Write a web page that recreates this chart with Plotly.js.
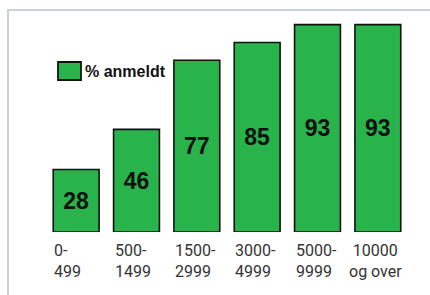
<!DOCTYPE html>
<html>
<head>
<meta charset="utf-8">
<script src="https://cdn.plot.ly/plotly-3.0.1.min.js"></script>
<style>
html,body{margin:0;padding:0;background:#fff;}
#frame{position:absolute;left:7px;top:9px;width:423px;height:286px;border-left:2px solid #cbd0d9;border-top:2px solid #cbd0d9;z-index:5;pointer-events:none;}
#chart{position:absolute;left:0;top:0;width:430px;height:295px;z-index:1;}
</style>
</head>
<body>
<div id="frame"></div>
<div id="chart"></div>
<script>
const categories = ["0-499", "500-1499", "1500-2999", "3000-4999", "5000-9999", "10000 og over"];
const tickLabels = ["0-<br>499", "500-<br>1499", "1500-<br>2999", "3000-<br>4999", "5000-<br>9999", "10000<br>og over"];
const values = [28, 46, 77, 85, 93, 93];
const seriesName = "% anmeldt";

const green = "#29b34b";

const trace = {
  type: "bar",
  x: categories,
  y: values,
  text: values.map(String),
  textposition: "inside",
  insidetextanchor: "middle",
  textangle: 0,
  textfont: {family: "Liberation Sans, Arial, sans-serif", size: 23, color: "#111", weight: "bold"},
  marker: {color: green, line: {color: "#111", width: 1.6}},
  name: seriesName,
  hoverinfo: "none"
};

const annotations = categories.map((c, i) => {
  const last = i === categories.length - 1;
  return {
    x: c, xref: "x", y: 0, yref: "paper",
    yanchor: "top", yshift: -7,
    xanchor: last ? "center" : "left",
    xshift: last ? -2 : -24,
    align: last ? "center" : "left",
    text: tickLabels[i],
    showarrow: false,
    font: {family: "Roboto, sans-serif", size: 16, color: "#333"}
  };
});
annotations.push({
  x: 85, xref: "paper", y: 71, yref: "paper",
  text: "<b>" + seriesName + "</b>", showarrow: false,
  xanchor: "left", yanchor: "middle",
  font: {family: "Liberation Sans, Arial, sans-serif", size: 16, color: "#111"}
});

const layout = {
  width: 430, height: 295,
  margin: {l: 46, r: 22, t: 9, b: 63},
  paper_bgcolor: "rgba(0,0,0,0)",
  plot_bgcolor: "rgba(0,0,0,0)",
  showlegend: false,
  bargap: 0.24,
  xaxis: {type: "category", showticklabels: false, showgrid: false, zeroline: false, showline: false, ticks: "", fixedrange: true},
  yaxis: {range: [0, 100], showticklabels: false, showgrid: false, zeroline: false, showline: false, ticks: "", fixedrange: true},
  annotations: annotations,
  shapes: []
};

const plotW = 430 - 46 - 22, plotH = 295 - 9 - 63;
function px2paperX(px){ return (px - 46) / plotW; }
function px2paperY(py){ return (295 - 63 - py) / plotH; }
annotations[annotations.length - 1].x = px2paperX(83);
annotations[annotations.length - 1].y = px2paperY(71);
layout.shapes.push({
  type: "rect", xref: "paper", yref: "paper",
  x0: px2paperX(58), x1: px2paperX(81), y0: px2paperY(80), y1: px2paperY(62),
  fillcolor: green, line: {color: "#111", width: 1.8}
});

Plotly.newPlot("chart", [trace], layout, {displayModeBar: false, staticPlot: true});
</script>
</body>
</html>
